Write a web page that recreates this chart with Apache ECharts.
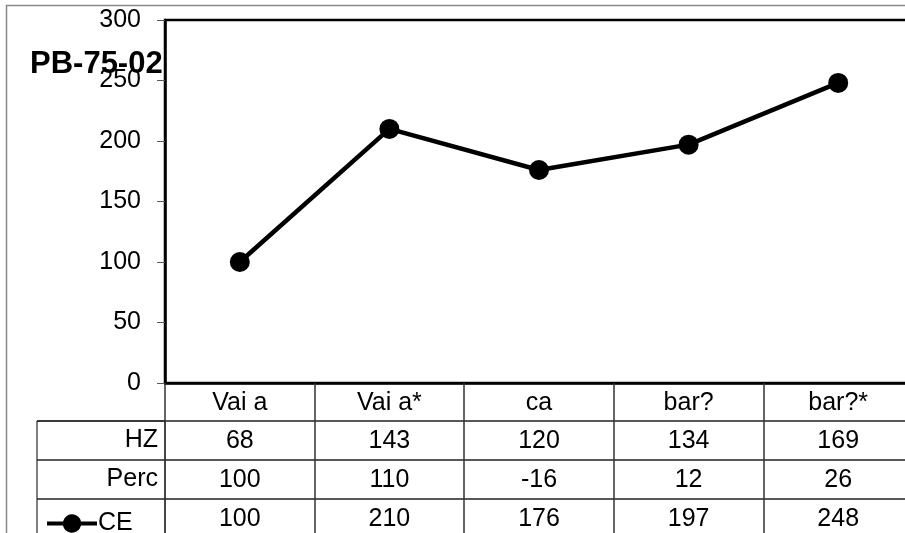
<!DOCTYPE html>
<html>
<head>
<meta charset="utf-8">
<script src="https://cdn.jsdelivr.net/npm/echarts@6/dist/echarts.min.js"></script>
<style>
  html, body { margin: 0; padding: 0; background: #fff; }
  #chart { width: 905px; height: 533px; }
</style>
</head>
<body>
<div id="chart"></div>
<script>
// table / chart data
var categories = ["Vai a", "Vai a*", "ca", "bar?", "bar?*"];
var rowNames = ["HZ", "Perc", "CE"];
var hzValues = [68, 143, 120, 134, 169];
var percValues = [100, 110, -16, 12, 26];
var ceValues = [100, 210, 176, 197, 248];
var yTicks = [0, 50, 100, 150, 200, 250, 300];

var FONT = "Liberation Sans, Arial, sans-serif";
var FS = 25;

// legend icon: thick line with a dot in the middle
var lineDotIcon = "path://M0 8H16A9.22 9.22 0 0 1 34 8H50V12H34A9.22 9.22 0 0 1 16 12H0Z";

function rowAxis(offset, values) {
  return {
    type: "category",
    gridIndex: 0,
    data: categories,
    position: "bottom",
    offset: offset,
    axisLine: { show: true, lineStyle: { color: "#222", width: 1.5 } },
    axisTick: { show: false },
    axisLabel: {
      margin: 8,
      fontSize: FS,
      fontFamily: FONT,
      color: "#000",
      formatter: function (v, i) {
        return String(values[i]);
      },
    },
  };
}

var chart = echarts.init(document.getElementById("chart"));
var option = {
  animation: false,
  backgroundColor: "#fff",
  title: {
    text: "PB-75-02",
    left: 25,
    top: 44,
    textStyle: { fontSize: 31, fontWeight: "bold", fontFamily: FONT, color: "#000" },
  },
  legend: {
    data: [{ name: "CE", icon: lineDotIcon }],
    left: 42,
    top: 506,
    itemWidth: 50,
    itemHeight: 19,
    itemGap: 0,
    textStyle: { fontSize: FS, fontFamily: FONT, color: "#000", padding: [0, 0, 0, -4] },
  },
  graphic: [
    {
      type: "rect",
      shape: { x: 6.5, y: 5.5, width: 1000, height: 1000 },
      style: { fill: "none", stroke: "#888", lineWidth: 1.5 },
      z: -1,
    },
  ],
  grid: [
    {
      left: 165, top: 20, width: 748, height: 363,
      outerBoundsMode: "none", containLabel: false,
      show: true, borderColor: "#000", borderWidth: 2.5, backgroundColor: "#fff",
    },
    {
      left: 37, top: 421, width: 128, height: 117,
      outerBoundsMode: "none", containLabel: false,
      show: true, borderColor: "#000", borderWidth: 1,
    },
  ],
  xAxis: [
    {
      type: "category",
      gridIndex: 0,
      data: categories,
      boundaryGap: true,
      axisLine: { show: true, lineStyle: { color: "#000", width: 2.5 } },
      axisTick: { show: true, length: 155, lineStyle: { color: "#333", width: 1.5 } },
      axisLabel: { margin: 8, fontSize: FS, fontFamily: FONT, color: "#000" },
    },
    rowAxis(38, hzValues),
    rowAxis(77, percValues),
    rowAxis(116, ceValues),
    { type: "value", gridIndex: 1, show: false },
  ],
  yAxis: [
    {
      type: "value",
      gridIndex: 0,
      min: 0,
      max: 300,
      interval: 50,
      axisLine: { show: true, lineStyle: { color: "#000", width: 2.5 } },
      axisTick: { show: true, length: 8, lineStyle: { color: "#555", width: 1 } },
      axisLabel: {
        margin: 24,
        fontSize: FS,
        fontFamily: FONT,
        color: "#000",
        customValues: yTicks,
      },
      splitLine: { show: false },
    },
    {
      type: "category",
      gridIndex: 1,
      data: rowNames,
      inverse: true,
      position: "right",
      axisLine: { show: false },
      axisTick: { show: false },
      splitLine: { show: true, lineStyle: { color: "#222", width: 1.5 } },
      axisLabel: {
        inside: true,
        margin: 7,
        fontSize: FS,
        fontFamily: FONT,
        color: "#000",
        formatter: function (v) {
          return v === "CE" ? "" : v;
        },
      },
    },
  ],
  series: [
    {
      name: "CE",
      type: "line",
      xAxisIndex: 0,
      yAxisIndex: 0,
      data: ceValues,
      symbol: "circle",
      symbolSize: 20,
      itemStyle: { color: "#000" },
      lineStyle: { color: "#000", width: 4.5 },
    },
  ],
};
chart.setOption(option);
</script>
</body>
</html>
